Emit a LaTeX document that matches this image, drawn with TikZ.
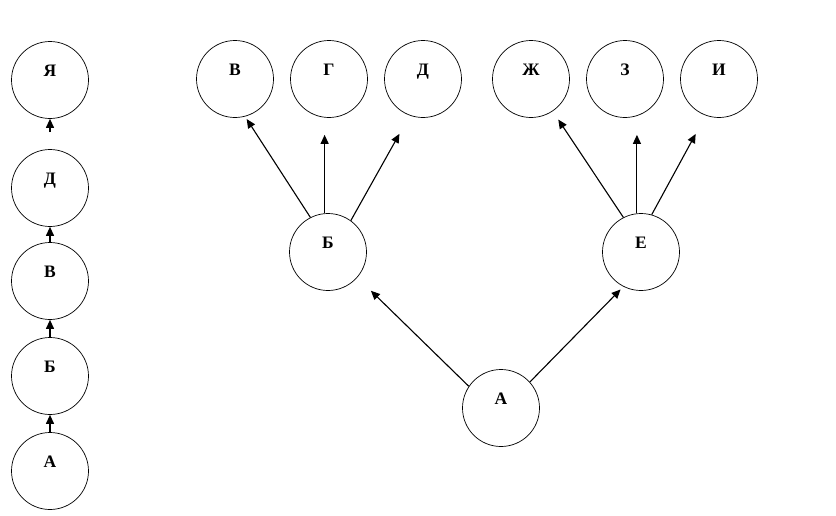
\documentclass[tikz,border=0pt]{standalone}
\usepackage{fontspec}
\setmainfont{Liberation Serif}
\usetikzlibrary{arrows.meta}

\begin{document}
\begin{tikzpicture}[
        x=1pt, y=-1pt,
        % Estilo de los vértices
        vertex/.style={
                circle,
                draw=black,
                line width=0.7pt,
                minimum size=77pt,
                inner sep=0pt,
                text height=13pt,
                text depth=20pt,
                font=\fontsize{17.5}{20}\selectfont\bfseries
            },
        % Flechas
        arrow/.style={
                -{Triangle[length=9pt, width=8pt]},
                line width=1.1pt,
                color=black
            }
    ]
    \useasboundingbox (0,0) rectangle (836,515);

    % Cadena de la izquierda
    \node[vertex] (lya) at (50,80) {Я};
    \node[vertex] (ld) at (50,188) {Д};
    \node[vertex] (lv) at (50,281) {В};
    \node[vertex] (lb) at (50,376) {Б};
    \node[vertex] (la) at (50,471) {А};

    \draw[arrow, shorten <=17pt] (ld.north) -- (lya.south);
    \draw[arrow] (lv.north) -- (ld.south);
    \draw[arrow] (lb.north) -- (lv.south);
    \draw[arrow] (la.north) -- (lb.south);

    % Árbol
    \node[vertex] (a) at (501,408) {А};
    \node[vertex] (b) at (328,252) {Б};
    \node[vertex] (e) at (641,252) {Е};

    \node[vertex] (v) at (235,79) {В};
    \node[vertex] (g) at (329,79) {Г};
    \node[vertex] (d) at (423,79) {Д};
    \node[vertex] (zh) at (531,79) {Ж};
    \node[vertex] (z) at (625,79) {З};
    \node[vertex] (i) at (719,79) {И};

    % Flechas desde А
    \draw[arrow, shorten >=19pt] (a.146) -- (b.-41);
    \draw[arrow, shorten >=4pt] (a.42) -- (e.-117);

    % Flechas desde Б
    \draw[arrow, shorten >=3pt] (b.117) -- (v.-75);
    \draw[arrow, shorten >=17pt] (b.95) -- (b.95 |- g.south);
    \draw[arrow, shorten >=21pt] (b.54) -- (d.-110);

    % Flechas desde Е
    \draw[arrow, shorten >=10pt] (e.117) -- (zh.-56);
    \draw[arrow, shorten >=17pt] (e.96) -- (e.96 |- z.south);
    \draw[arrow, shorten >=21pt] (e.74) -- (i.-110);

\end{tikzpicture}
\end{document}
